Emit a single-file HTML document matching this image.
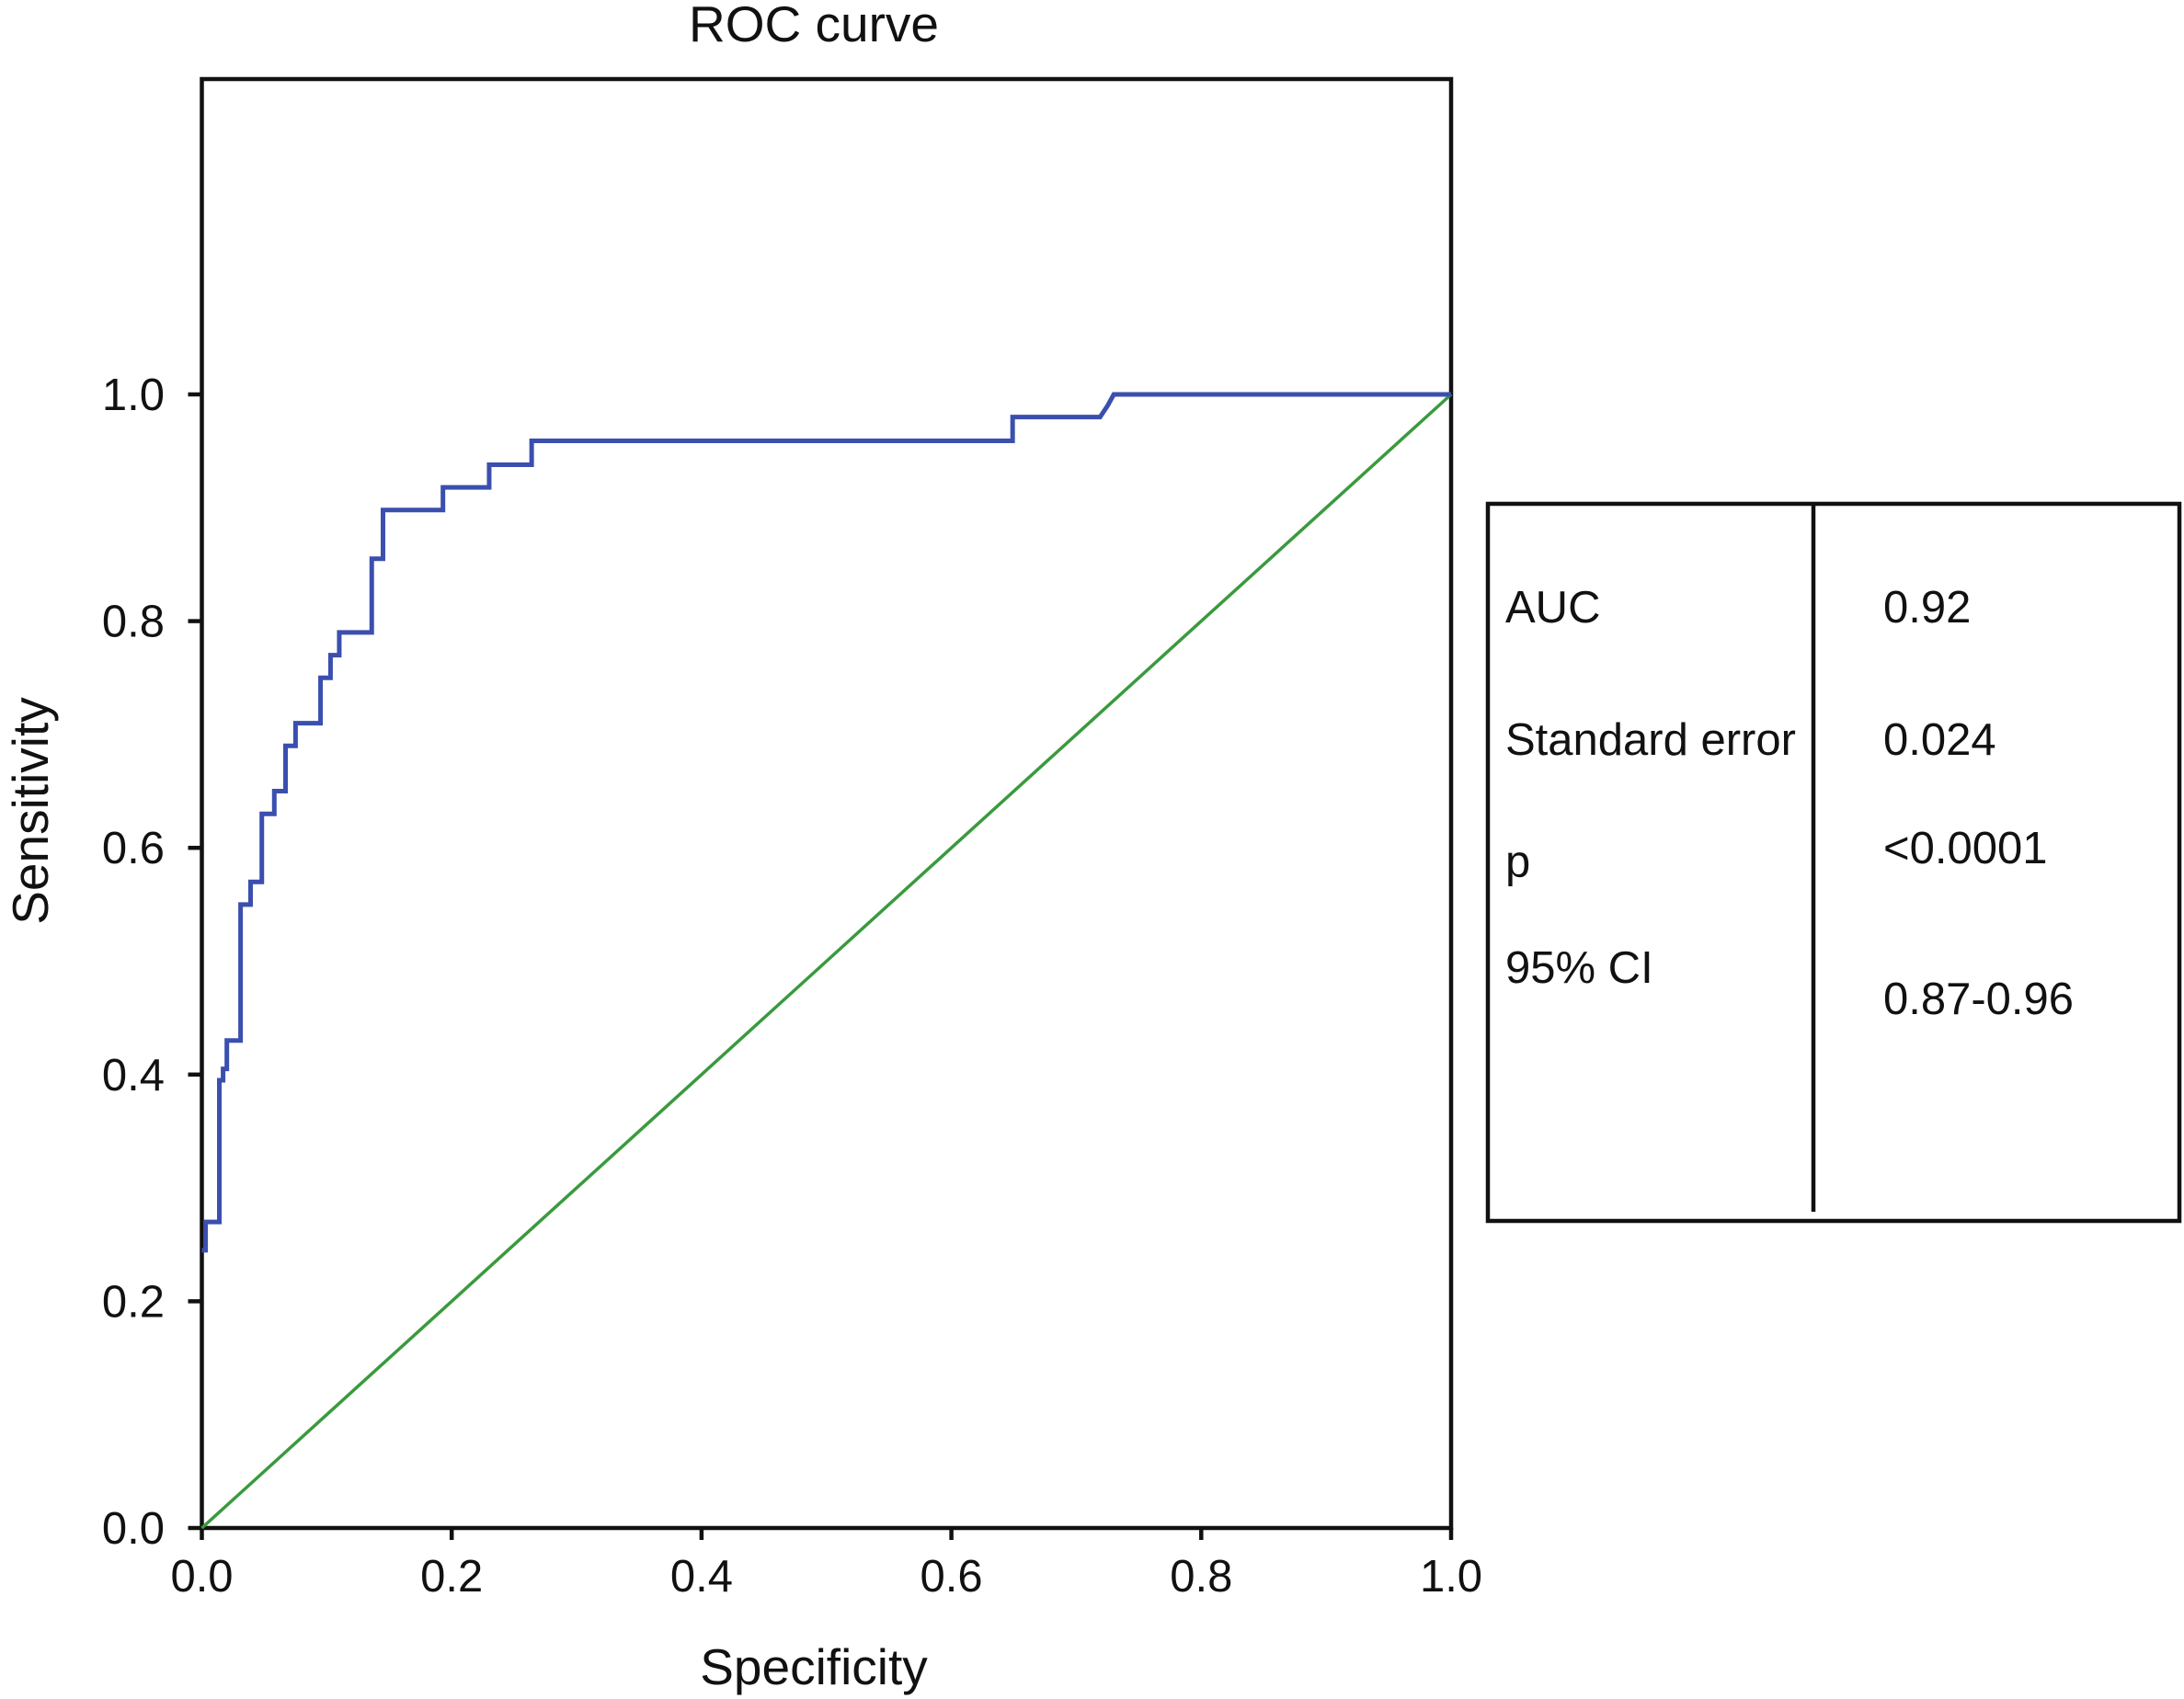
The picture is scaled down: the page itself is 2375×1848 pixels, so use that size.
<!DOCTYPE html>
<html><head><meta charset="utf-8"><style>
html,body{margin:0;padding:0;background:#fff;}
svg{display:block;font-family:"Liberation Sans",Arial,sans-serif;}
</style></head><body>
<svg id="chart" width="2375" height="1848" viewBox="0 0 2375 1848">
<text x="885" y="45" font-size="55" text-anchor="middle" fill="#111">ROC curve</text>
<rect x="219.5" y="86" width="1358.5" height="1576" fill="none" stroke="#111" stroke-width="4.5"/>
<g id="axes"></g>
<g id="series"></g>
<text x="885" y="1832" font-size="55" text-anchor="middle" fill="#111">Specificity</text>
<text transform="translate(52,882) rotate(-90)" font-size="55" text-anchor="middle" fill="#111">Sensitivity</text>
<g>
<rect x="1618" y="548" width="752" height="780" fill="none" stroke="#111" stroke-width="4.5"/>
<line x1="1972" y1="548" x2="1972" y2="1318" stroke="#111" stroke-width="4.5"/>
<g font-size="49" fill="#111">
<text x="1637" y="677">AUC</text>
<text x="1637" y="821">Standard error</text>
<text x="1637" y="954">p</text>
<text x="1637" y="1069">95% CI</text>
<text x="2048" y="677">0.92</text>
<text x="2048" y="821">0.024</text>
<text x="2048" y="939">&lt;0.0001</text>
<text x="2048" y="1103">0.87-0.96</text>
</g></g>
</svg>
<script>
const xTicks = [0, 0.2, 0.4, 0.6, 0.8, 1.0];
const yTicks = [0, 0.2, 0.4, 0.6, 0.8, 1.0];
const rocFpr = [0,0.003,0.003,0.014,0.014,0.017,0.017,0.020,0.020,0.031,0.031,0.039,0.039,0.048,0.048,0.058,0.058,0.067,0.067,0.075,0.075,0.095,0.095,0.103,0.103,0.110,0.110,0.136,0.136,0.145,0.145,0.193,0.193,0.230,0.230,0.264,0.264,0.649,0.649,0.719,0.725,0.730,1.0];
const rocTpr = [0.245,0.245,0.27,0.27,0.395,0.395,0.405,0.405,0.43,0.43,0.55,0.55,0.57,0.57,0.63,0.63,0.65,0.65,0.69,0.69,0.71,0.71,0.75,0.75,0.77,0.77,0.79,0.79,0.855,0.855,0.898,0.898,0.918,0.918,0.938,0.938,0.959,0.959,0.98,0.98,0.99,1.0,1.0];
const refX = [0,0.1,0.2,0.3,0.4,0.5,0.6,0.7,0.8,0.9,1.0];
const refY = [0,0.1,0.2,0.3,0.4,0.5,0.6,0.7,0.8,0.9,1.0];
const X0=219.5,X1=1578,Y0=1662,Y1=429;
function sx(v){return X0+(X1-X0)*v;}
function sy(v){return Y0-(Y0-Y1)*v;}
const NS="http://www.w3.org/2000/svg";
const axes=document.getElementById('axes');
const series=document.getElementById('series');
function mk(tag,attrs,parent){const e=document.createElementNS(NS,tag);for(const k in attrs)e.setAttribute(k,attrs[k]);parent.appendChild(e);return e;}
xTicks.forEach(t=>{
  const l=mk('line',{x1:sx(t),x2:sx(t),y1:Y0,y2:Y0+13,stroke:'#111','stroke-width':4.5},axes);
  
  
  const tx=mk('text',{x:sx(t),y:1731,'font-size':49,'text-anchor':'middle',fill:'#111'},axes);
  tx.textContent=t.toFixed(1);
  
  
});
yTicks.forEach(t=>{
  const l=mk('line',{x1:X0-15,x2:X0,y1:sy(t),y2:sy(t),stroke:'#111','stroke-width':4.5},axes);
  
  
  const tx=mk('text',{x:179,y:sy(t)+17,'font-size':49,'text-anchor':'end',fill:'#111'},axes);
  tx.textContent=t.toFixed(1);
  
  
});
const ref=mk('polyline',{points:refX.map((v,i)=>sx(v)+','+sy(refY[i])).join(' '),fill:'none',stroke:'#3a9a3e','stroke-width':3.5},series);


const roc=mk('polyline',{points:rocFpr.map((v,i)=>sx(v)+','+sy(rocTpr[i])).join(' '),fill:'none',stroke:'#3a4fae','stroke-width':5},series);


</script>
</body></html>
